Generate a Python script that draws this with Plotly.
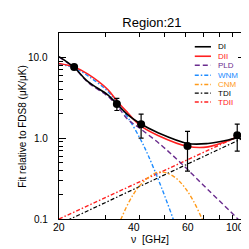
import math
import plotly.graph_objects as go

# ---- data ----
freq_data = [22.8, 33.0, 40.7, 60.8, 93.5]
fit_data = [7.6, 2.65, 1.49, 0.80, 1.09]
fit_err = [0.3, 0.45, 0.49, 0.41, 0.40]

di_freq = [20, 22.8, 25.7, 30.5, 33, 36.3, 40.2, 47.1, 61.1, 72.6, 86.4, 100]
di_vals = [10.2, 7.5, 5.0, 3.43, 2.65, 1.94, 1.53, 1.17, 0.86, 0.86, 0.95, 1.08]

dii_freq = [20, 22.8, 25.7, 30.5, 33, 36.3, 40.2, 47.1, 61.1, 72.6, 86.4, 100]
dii_vals = [8.4, 7.6, 6.2, 4.0, 2.88, 2.05, 1.45, 1.08, 0.79, 0.78, 0.93, 1.15]

pld_freq = [20, 22.8, 25.7, 30.5, 33, 36.3, 40.2, 48.4, 57.5, 72.6, 94, 100]
pld_vals = [10.1, 7.4, 4.9, 3.3, 2.55, 1.70, 1.33, 0.82, 0.49, 0.23, 0.10, 0.08]

wnm_freq = [20, 22.8, 25.7, 30.5, 33, 36.3, 40.6, 43.2, 47, 50, 53.7, 56]
wnm_vals = [8.3, 7.4, 5.9, 3.8, 2.75, 1.8, 0.95, 0.62, 0.32, 0.19, 0.10, 0.065]

cnm_freq = [33, 34.2, 36, 38, 40, 43, 46, 49, 52, 56, 60, 64, 69, 71]
cnm_vals = [0.077, 0.10, 0.145, 0.20, 0.254, 0.32, 0.37, 0.38, 0.36, 0.305, 0.234, 0.167, 0.10, 0.08]

tdi_freq = [20, 100]
tdi_vals = [0.086, 1.03]

tdii_freq = [20, 100]
tdii_vals = [0.10, 1.15]

x_tick_vals = [20, 40, 60, 100]
x_tick_text = ["20", "40", "60", "100"]
y_tick_vals = [0.1, 1, 10]
y_tick_text = ["0.1", "1.0", "10.0"]

legend_names = ["DI", "DII", "PLD", "WNM", "CNM", "TDI", "TDII"]

BLACK = "black"
RED = "#ff2020"
PURPLE = "#6a2c8e"
BLUE = "#1e8cff"
ORANGE = "#ff9a1a"
DASHDOT = "4px,2px,1.5px,2px"
DASH = "5px,3px"

styles = [
    dict(color=BLACK, width=1.6, dash="solid"),
    dict(color=RED, width=1.6, dash="solid"),
    dict(color=PURPLE, width=1.4, dash=DASH),
    dict(color=BLUE, width=1.4, dash=DASHDOT),
    dict(color=ORANGE, width=1.4, dash=DASHDOT),
    dict(color=BLACK, width=1.2, dash=DASHDOT),
    dict(color=RED, width=1.4, dash=DASHDOT),
]
legend_text_colors = [BLACK, RED, PURPLE, BLUE, ORANGE, BLACK, RED]

fig = go.Figure()

curves = [
    (tdi_freq, tdi_vals, 5, "linear"),
    (tdii_freq, tdii_vals, 6, "linear"),
    (cnm_freq, cnm_vals, 4, "spline"),
    (wnm_freq, wnm_vals, 3, "spline"),
    (pld_freq, pld_vals, 2, "spline"),
    (dii_freq, dii_vals, 1, "spline"),
    (di_freq, di_vals, 0, "spline"),
]
for fx, fy, idx, shape in curves:
    st = styles[idx]
    fig.add_trace(go.Scatter(
        x=fx, y=fy, mode="lines", name=legend_names[idx],
        line=dict(color=st["color"], width=st["width"], dash=st["dash"], shape=shape),
        showlegend=False, hoverinfo="skip"))

fig.add_trace(go.Scatter(
    x=freq_data, y=fit_data, mode="markers",
    marker=dict(color="black", size=8),
    error_y=dict(type="data", array=fit_err, color="black", thickness=1.2, width=2.5),
    showlegend=False))

# manual legend (compact, like the reference)
row_y = [0.926, 0.875, 0.827, 0.773, 0.723, 0.677, 0.629]
shapes = []
annotations = []
for i, name in enumerate(legend_names):
    st = styles[i]
    shapes.append(dict(type="line", xref="paper", yref="paper",
                       x0=0.73, x1=0.817, y0=row_y[i], y1=row_y[i],
                       line=dict(color=st["color"], width=st["width"], dash=st["dash"])))
    annotations.append(dict(xref="paper", yref="paper", x=0.852, y=row_y[i],
                            text=name, showarrow=False, xanchor="left", yanchor="middle",
                            borderpad=0, font=dict(size=8, color=legend_text_colors[i])))

x_lo = math.log10(min(x_tick_vals))
x_hi = math.log10(max(x_tick_vals))
y_lo = math.log10(min(y_tick_vals))
y_hi = math.log10(20)

# x tick labels placed like the reference
x_label_shift = [0, -5, 2, -10]
for v, t, s in zip(x_tick_vals, x_tick_text, x_label_shift):
    xv = min(max(math.log10(v), x_lo), x_hi)
    annotations.append(dict(xref="x", yref="paper", x=xv, y=0,
                            text=t, showarrow=False, xanchor="center", yanchor="top",
                            yshift=-1, xshift=s, borderpad=0,
                            font=dict(size=10.5, color="black")))

# y tick labels placed like the reference
for v, t in zip(y_tick_vals, y_tick_text):
    yv = min(max(math.log10(v), y_lo), y_hi)
    annotations.append(dict(xref="paper", yref="y", x=0, y=yv,
                            text=t, showarrow=False, xanchor="right", yanchor="middle",
                            xshift=-10, borderpad=0,
                            font=dict(size=10, color="black")))

annotations.append(dict(xref="paper", yref="paper", x=0.49, y=-0.108,
                        text="ν  [GHz]", showarrow=False, xanchor="center", yanchor="middle",
                        borderpad=0, font=dict(size=10.5, color="black")))
annotations.append(dict(xref="paper", yref="paper", x=-0.2, y=0.5,
                        text="Fit relative to FDS8 (μK/μK)", showarrow=False, textangle=-90,
                        xanchor="center", yanchor="middle",
                        font=dict(size=10, color="black")))

fig.update_layout(
    width=249, height=249,
    margin=dict(l=51, r=12, t=25, b=38),
    paper_bgcolor="white", plot_bgcolor="white",
    font=dict(family="Liberation Sans, Arial, sans-serif", color="black"),
    title=dict(text="Region:21", x=0.578, xanchor="center", y=0.94, yanchor="middle",
               font=dict(size=13, color="black")),
    shapes=shapes, annotations=annotations,
    showlegend=False,
)

fig.update_xaxes(
    type="log", range=[x_lo, x_hi],
    tickvals=x_tick_vals, showticklabels=False,
    ticks="inside", ticklen=4, tickwidth=1, tickcolor="black",
    minor=dict(tickvals=[30, 50, 70, 80, 90], ticks="inside", ticklen=4, tickcolor="black", showgrid=False),
    showline=True, linecolor="black", linewidth=1, mirror="ticks",
    showgrid=False, zeroline=False,
)
fig.update_yaxes(
    type="log", range=[y_lo, y_hi],
    tickvals=y_tick_vals, showticklabels=False,
    ticks="inside", ticklen=7, tickwidth=1, tickcolor="black",
    minor=dict(tickvals=[0.2, 0.3, 0.4, 0.5, 0.6, 0.7, 0.8, 0.9, 2, 3, 4, 5, 6, 7, 8, 9, 20],
               ticks="inside", ticklen=3.5, tickcolor="black", showgrid=False),
    showline=True, linecolor="black", linewidth=1, mirror="ticks",
    showgrid=False, zeroline=False,
)

fig.write_html("out.html")
